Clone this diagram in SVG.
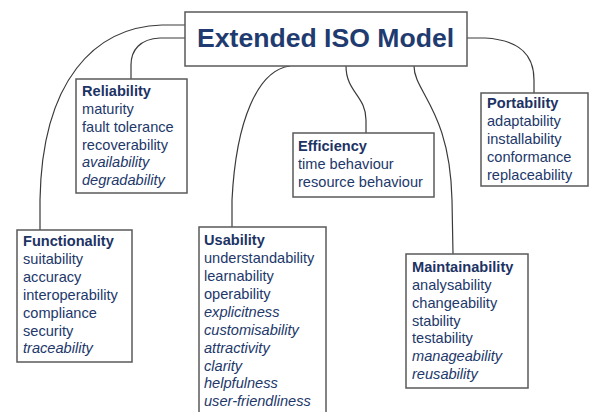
<svg xmlns="http://www.w3.org/2000/svg" width="593" height="412" viewBox="0 0 593 412">
<style>
.box{fill:#fff;stroke:#5a5a5a;stroke-width:1.5}
.con{fill:none;stroke:#3a3a3a;stroke-width:1.2}
text{font-family:"Liberation Sans",Arial,sans-serif;font-size:14.6px;fill:#22386a}
.h{font-weight:bold;fill:#1c3364}
.i{font-style:italic}
.title{font-size:26.6px;font-weight:bold;fill:#1f3b70}
</style>
<rect width="593" height="412" fill="#fff"/>
<g id="connectors">
<path class="con" d="M185,25 L162,25 C95,27 42,80 40,200 L40,230"/>
<path class="con" d="M185,38 L160,38 C140,39 131,50 131,65 L131,79"/>
<path class="con" d="M290,66 C258,70 236,120 232,200 L232,227"/>
<path class="con" d="M346,66 C346,92 366,96 366,120 L366,133"/>
<path class="con" d="M414,66 C414,92 450,110 452,200 L453,254"/>
<path class="con" d="M467,38 L485,38 C520,40 534,55 534,80 L534,93"/>
</g>
<g id="main">
<rect class="box" x="185" y="12" width="282" height="54"/>
<text class="title" x="197" y="47">Extended ISO Model</text>
</g>
<g id="reliability">
<rect class="box" x="76" y="79" width="111" height="114"/>
<text class="h" x="82" y="96">Reliability</text>
<text x="82" y="114">maturity</text>
<text x="82" y="132">fault tolerance</text>
<text x="82" y="150">recoverability</text>
<text class="i" x="82" y="167">availability</text>
<text class="i" x="82" y="185">degradability</text>
</g>
<g id="efficiency">
<rect class="box" x="293" y="133" width="141" height="64"/>
<text class="h" x="298" y="151">Efficiency</text>
<text x="298" y="169">time behaviour</text>
<text x="298" y="187">resource behaviour</text>
</g>
<g id="portability">
<rect class="box" x="481" y="93" width="107" height="93"/>
<text class="h" x="487" y="108">Portability</text>
<text x="487" y="126">adaptability</text>
<text x="487" y="144">installability</text>
<text x="487" y="162">conformance</text>
<text x="487" y="180">replaceability</text>
</g>
<g id="functionality">
<rect class="box" x="17" y="230" width="115" height="132"/>
<text class="h" x="23" y="246">Functionality</text>
<text x="23" y="264">suitability</text>
<text x="23" y="282">accuracy</text>
<text x="23" y="300">interoperability</text>
<text x="23" y="318">compliance</text>
<text x="23" y="336">security</text>
<text class="i" x="23" y="353">traceability</text>
</g>
<g id="usability">
<rect class="box" x="199" y="227" width="127" height="200"/>
<text class="h" x="204" y="245">Usability</text>
<text x="204" y="263">understandability</text>
<text x="204" y="281">learnability</text>
<text x="204" y="299">operability</text>
<text class="i" x="204" y="317">explicitness</text>
<text class="i" x="204" y="335">customisability</text>
<text class="i" x="204" y="353">attractivity</text>
<text class="i" x="204" y="371">clarity</text>
<text class="i" x="204" y="388">helpfulness</text>
<text class="i" x="204" y="406">user-friendliness</text>
</g>
<g id="maintainability">
<rect class="box" x="406" y="254" width="122" height="134"/>
<text class="h" x="412" y="272">Maintainability</text>
<text x="412" y="290">analysability</text>
<text x="412" y="308">changeability</text>
<text x="412" y="326">stability</text>
<text x="412" y="343">testability</text>
<text class="i" x="412" y="361">manageability</text>
<text class="i" x="412" y="379">reusability</text>
</g>
</svg>
